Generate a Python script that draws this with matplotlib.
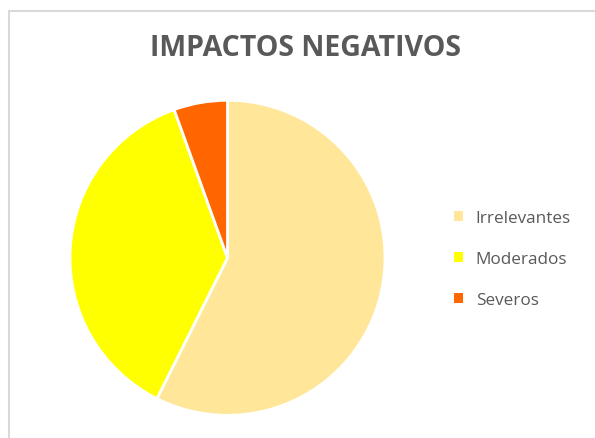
import matplotlib
matplotlib.use("Agg")
import matplotlib.pyplot as plt
from matplotlib.patches import Rectangle

labels = ["Irrelevantes", "Moderados", "Severos"]
values = [57.4, 37.1, 5.5]
colors = ["#FFE699", "#FFFF00", "#FF6600"]

W, H = 595, 439
fig = plt.figure(figsize=(W/100, H/100), dpi=100)
fig.patch.set_facecolor("white")

# chart border (left & top visible)
fig.add_artist(Rectangle((9/W, -0.1), 1.2, (H-11.5)/H + 0.1, transform=fig.transFigure,
                         fill=False, edgecolor="#D9D9D9", linewidth=1.5))

cx, cy, r = 227.5, 258.8, 157.5
ax = fig.add_axes([(cx-r)/W, (H-cy-r)/H, 2*r/W, 2*r/H])
wedges, _ = ax.pie(values, colors=colors, startangle=90, counterclock=False,
                   radius=1, wedgeprops=dict(edgecolor="white", linewidth=2))
ax.set_xlim(-1.0, 1.0)
ax.set_ylim(-1.0, 1.0)
ax.set_aspect("auto")
ax.axis("off")

fig.text(306/W, 1-49/H, "IMPACTOS NEGATIVOS", ha="center", va="center",
         fontsize=20.5, fontweight="bold", color="#595959", family="Open Sans")

handles = [Rectangle((0, 0), 1, 1, facecolor=c, edgecolor="none") for c in colors]
leg = fig.legend(handles, labels, loc="center left", bbox_to_anchor=(439/W, 1-260/H),
                 frameon=False, handlelength=0.5, handleheight=0.5, handletextpad=0.75,
                 labelspacing=1.45, prop=dict(family="Open Sans", size=12.3))
for t in leg.get_texts():
    t.set_color("#595959")

fig.savefig("out.png", dpi=100)
